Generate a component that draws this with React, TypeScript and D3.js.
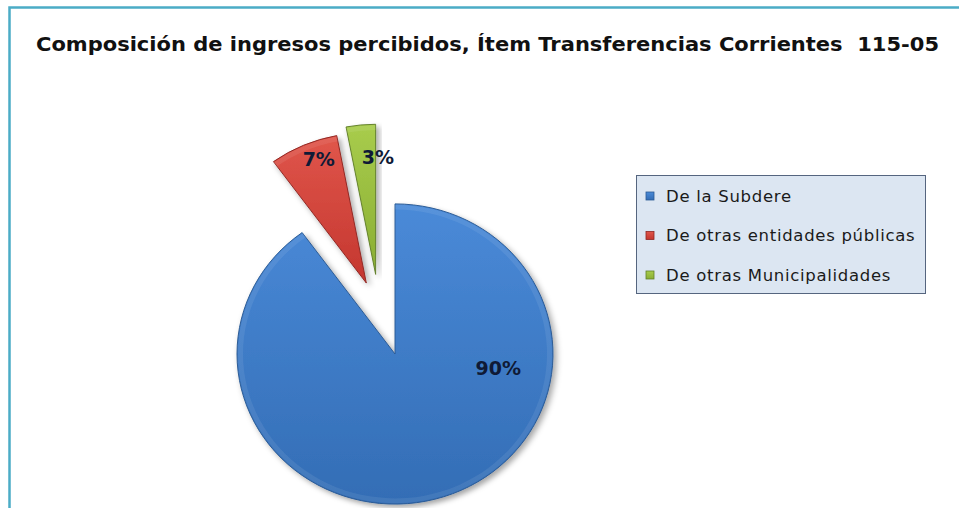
import React from "react";
import * as d3 from "d3";

const title = "Composición de ingresos percibidos, Ítem Transferencias Corrientes  115-05";
const categories = ["De la Subdere", "De otras entidades públicas", "De otras Municipalidades"];
const values = [90, 7, 3];

// styling per slice
const colors = [
  { top: "#4a8ad8", bottom: "#336db5", edge: "#2b5a94" },
  { top: "#e0564b", bottom: "#c4362f", edge: "#8f2622" },
  { top: "#a8cc4c", bottom: "#8aae34", edge: "#62802a" },
];
const explodeDist = [0, 80, 86];
const explodeDir = [null, -21, -13]; // degrees, null = slice middle
const labelAt = [
  { a: 98, r: 0.66 },
  { a: -20, r: 0.88 },
  { a: 1, r: 0.78 },
];

const W = 959;
const H = 508;
const cx = 395;
const cy = 354;
const R = 158;
const squash = 0.95;

const App = () => {
  const total = d3.sum(values);
  const pie = d3
    .pie<number>()
    .sort(null)
    .startAngle(0)
    .endAngle(2 * Math.PI)
    .value((d) => d);
  const arcs = pie(values);
  const arc = d3.arc<d3.PieArcDatum<number>>().innerRadius(0).outerRadius(R);
  const rim = d3.arc<d3.PieArcDatum<number>>().innerRadius(R - 6).outerRadius(R - 1);

  const offsetOf = (i: number, a: d3.PieArcDatum<number>) => {
    const mid =
      explodeDir[i] == null
        ? (a.startAngle + a.endAngle) / 2
        : ((explodeDir[i] as number) * Math.PI) / 180;
    return [Math.sin(mid) * explodeDist[i], -Math.cos(mid) * explodeDist[i]];
  };

  return (
    <svg
      width={W}
      height={H}
      style={{ position: "absolute", left: 0, top: 0, background: "#fff" }}
    >
      <defs>
        {colors.map((c, i) => (
          <linearGradient key={i} id={`g${i}`} x1="0" y1="0" x2="0" y2="1">
            <stop offset="0%" stopColor={c.top} />
            <stop offset="100%" stopColor={c.bottom} />
          </linearGradient>
        ))}
        <filter id="shadow" x="-20%" y="-20%" width="140%" height="140%">
          <feDropShadow dx="3" dy="3" stdDeviation="3" floodColor="#000" floodOpacity="0.35" />
        </filter>
      </defs>

      <rect x={9.5} y={7.5} width={1000} height={600} fill="#fff" stroke="#4bacc6" strokeWidth={2.5} />

      <text
        x={36}
        y={51}
        fontFamily="Tahoma, 'DejaVu Sans', sans-serif"
        fontWeight="bold"
        fontSize={19}
        fill="#111"
        textLength={903}
        lengthAdjust="spacingAndGlyphs"
        style={{ whiteSpace: "pre" }}
      >
        {title}
      </text>

      <g transform={`translate(${cx},${cy}) scale(1,${squash})`}>
        {arcs.map((a, i) => {
          const [dx, dy] = offsetOf(i, a);
          return (
            <g key={i} transform={`translate(${dx},${dy})`} filter="url(#shadow)">
              <path d={arc(a) || ""} fill={`url(#g${i})`} stroke={colors[i].edge} strokeWidth={1} />
              <path d={rim(a) || ""} fill="#fff" opacity={0.08} />
            </g>
          );
        })}
      </g>

      {arcs.map((a, i) => {
        const [dx, dy] = offsetOf(i, a);
        const ang = (labelAt[i].a * Math.PI) / 180;
        const x = cx + dx + Math.sin(ang) * R * labelAt[i].r;
        const y = cy + (dy - Math.cos(ang) * R * labelAt[i].r) * squash;
        return (
          <text
            key={i}
            x={x}
            y={y}
            dy="0.36em"
            textAnchor="middle"
            fontFamily="Tahoma, 'DejaVu Sans', sans-serif"
            fontWeight="bold"
            fontSize={19}
            fill="#0f1a36"
          >
            {`${Math.round((values[i] / total) * 100)}%`}
          </text>
        );
      })}

      <g transform="translate(636,175)">
        <rect x={0.5} y={0.5} width={289} height={118} fill="#dce6f2" stroke="#55657f" strokeWidth={1} />
        {categories.map((c, i) => (
          <g key={c} transform={`translate(0,${21 + i * 39.5})`}>
            <rect x={10} y={-4} width={8} height={8} fill={`url(#g${i})`} stroke={colors[i].edge} strokeWidth={0.8} />
            <text
              x={30}
              y={0}
              dy="0.36em"
              fontFamily="Tahoma, 'DejaVu Sans', sans-serif"
              fontSize={16.5}
              letterSpacing={0.7}
              fill="#1a1a1a"
            >
              {c}
            </text>
          </g>
        ))}
      </g>
    </svg>
  );
};

export default App;
